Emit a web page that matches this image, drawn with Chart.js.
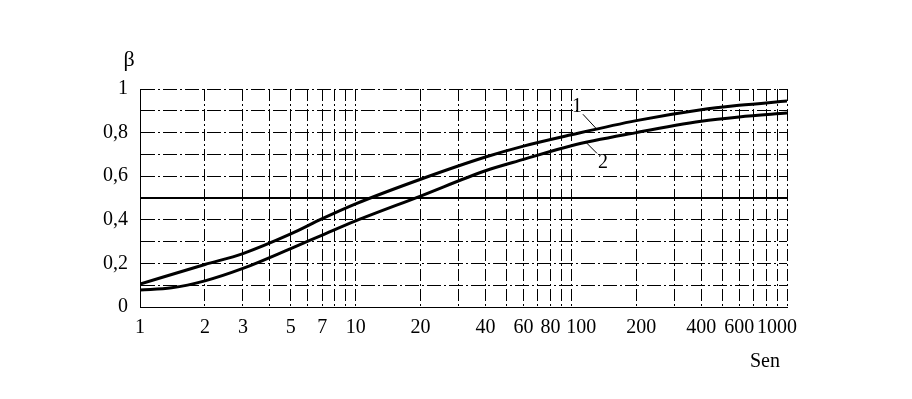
<!DOCTYPE html>
<html>
<head>
<meta charset="utf-8">
<script src="https://cdn.jsdelivr.net/npm/chart.js@4/dist/chart.umd.min.js"></script>
<style>
  body { margin: 0; background: #fff; }
  #wrap { width: 912px; height: 399px; }
</style>
</head>
<body>
<div id="wrap"><canvas id="betaChart"></canvas></div>
<script>
  // Sen values (log axis) and the two curves
  const sen1 = [1, 2, 3, 5, 7, 10, 20, 40, 60, 100, 200, 400, 600, 1000];
  const curve1 = [0.105, 0.195, 0.245, 0.335, 0.405, 0.473, 0.586, 0.688, 0.738, 0.79, 0.855, 0.905, 0.925, 0.945];
  const sen2 = [1, 1.4, 2, 3, 5, 7, 10, 20, 40, 60, 100, 200, 400, 600, 1000];
  const curve2 = [0.078, 0.088, 0.12, 0.177, 0.268, 0.33, 0.395, 0.509, 0.625, 0.677, 0.74, 0.80, 0.852, 0.872, 0.89];

  const xGridValues = [1, 2, 3, 4, 5, 6, 7, 8, 9, 10, 20, 30, 40, 50, 60, 70, 80, 90, 100,
                       200, 300, 400, 500, 600, 700, 800, 900, 1000];
  const xTickLabels = [1, 2, 3, 5, 7, 10, 20, 40, 60, 80, 100, 200, 400, 600, 1000];
  const yTickLabels = [0, 0.2, 0.4, 0.6, 0.8, 1];

  // curve number labels: point on the curve (data units) where the leader line starts
  const curveNames = ["1", "2"];
  const curveMarks = [{ x: 130, y: 0.82 }, { x: 117, y: 0.755 }];

  const serif = "'Liberation Serif', 'DejaVu Serif', serif";
  const enSpace = "\u2002";

  function toPoints(xs, ys) {
    return xs.map((x, i) => ({ x: x, y: ys[i] }));
  }

  // the printed labels sit a little off their lines near the crowded right end
  function xLabel(v) {
    if (v === 100) return enSpace + enSpace + "100";
    if (v === 200) return enSpace + "200";
    if (v === 1000) return "1000" + enSpace + enSpace;
    return String(v);
  }

  const extraText = {
    id: "extraText",
    afterDatasetsDraw(chart) {
      const ctx = chart.ctx;
      const area = chart.chartArea;
      const xs = chart.scales.x;
      const ys = chart.scales.y;
      ctx.save();
      ctx.fillStyle = "#000";
      ctx.strokeStyle = "#000";
      ctx.lineWidth = 1;
      ctx.font = "20px " + serif;

      // leader lines and curve numbers
      const dirs = [{ lx: -13, ly: -14, tx: -19, ty: -21 }, { lx: 11, ly: 11, tx: 17, ty: 20 }];
      curveMarks.forEach((m, i) => {
        const px = xs.getPixelForValue(m.x);
        const py = ys.getPixelForValue(m.y);
        const d = dirs[i];
        ctx.beginPath();
        ctx.moveTo(px, py);
        ctx.lineTo(px + d.lx, py + d.ly);
        ctx.stroke();
        ctx.textAlign = "center";
        ctx.textBaseline = "middle";
        ctx.fillText(curveNames[i], px + d.tx, py + d.ty);
      });

      // axis names
      ctx.font = "22px " + serif;
      ctx.textAlign = "center";
      ctx.textBaseline = "middle";
      ctx.fillText("β", area.left - 11, area.top - 29);
      ctx.font = "20px " + serif;
      ctx.textAlign = "right";
      ctx.fillText("Sen", area.right - 7, area.bottom + 55);
      ctx.restore();
    }
  };

  new Chart(document.getElementById("betaChart"), {
    type: "line",
    data: {
      datasets: [
        {
          label: "1",
          data: toPoints(sen1, curve1),
          borderColor: "#000",
          borderWidth: 3,
          pointRadius: 0,
          cubicInterpolationMode: "monotone",
          fill: false
        },
        {
          label: "2",
          data: toPoints(sen2, curve2),
          borderColor: "#000",
          borderWidth: 3,
          pointRadius: 0,
          cubicInterpolationMode: "monotone",
          fill: false
        }
      ]
    },
    options: {
      responsive: true,
      maintainAspectRatio: false,
      animation: false,
      layout: { padding: { left: 0, right: 125, top: 89, bottom: 0 } },
      plugins: {
        legend: { display: false },
        tooltip: { enabled: false }
      },
      scales: {
        x: {
          type: "logarithmic",
          min: 1,
          max: 1000,
          afterBuildTicks(scale) {
            scale.ticks = xGridValues.map(v => ({ value: v }));
          },
          afterFit(scale) {
            scale.height = 92;
          },
          grid: {
            color: "#000",
            lineWidth: 1,
            drawTicks: false
          },
          border: {
            color: "#000",
            dash: [12, 3, 2, 3]
          },
          ticks: {
            autoSkip: false,
            maxRotation: 0,
            minRotation: 0,
            padding: 9,
            color: "#000",
            font: { family: serif, size: 20 },
            callback(value) {
              return xTickLabels.includes(value) ? xLabel(value) : "";
            }
          }
        },
        y: {
          min: 0,
          max: 1,
          afterFit(scale) {
            scale.width = 140;
          },
          grid: {
            color: "#000",
            lineWidth: ctx => (Math.abs(ctx.tick.value - 0.5) < 1e-6 ? 2 : 1),
            drawTicks: false
          },
          border: {
            color: "#000",
            dash: ctx => (ctx.tick && Math.abs(ctx.tick.value - 0.5) < 1e-6 ? [] : [14, 3, 2, 3])
          },
          ticks: {
            stepSize: 0.1,
            autoSkip: false,
            padding: 12,
            color: "#000",
            font: { family: serif, size: 20 },
            callback(value) {
              const hit = yTickLabels.find(t => Math.abs(t - value) < 1e-6);
              if (hit === undefined) return "";
              return String(hit).replace(".", ",");
            }
          }
        }
      }
    },
    plugins: [extraText]
  });
</script>
</body>
</html>
